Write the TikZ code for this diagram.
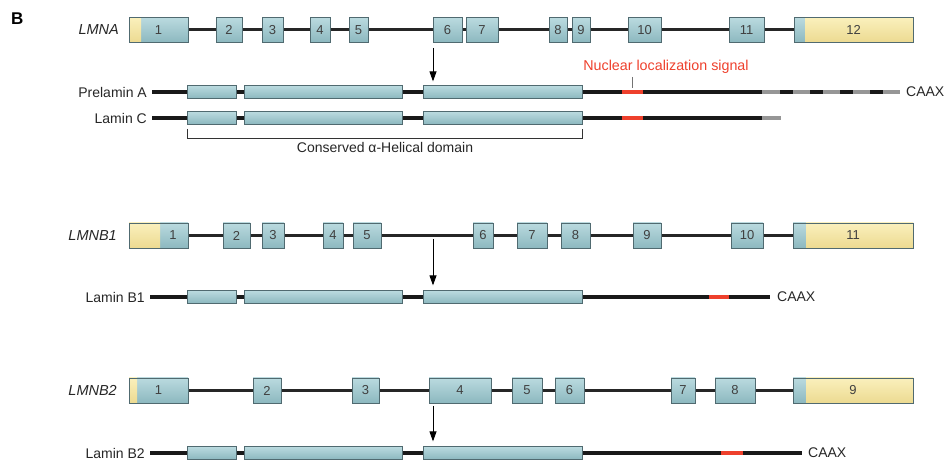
\documentclass[tikz,border=0pt]{standalone}
\usepackage{fontspec}
\setmainfont{Liberation Sans}
\usetikzlibrary{arrows.meta,backgrounds}
\definecolor{exonA}{RGB}{186,218,223}
\definecolor{exonB}{RGB}{140,184,191}
\definecolor{exonEdge}{RGB}{80,106,112}
\definecolor{utrA}{RGB}{250,240,188}
\definecolor{utrB}{RGB}{236,218,145}
\definecolor{nlsred}{RGB}{238,64,44}
\definecolor{tailgray}{RGB}{150,150,150}
\tikzset{
  exon/.style={draw=exonEdge, line width=0.8pt, top color=exonA, bottom color=exonB,
    minimum height=25pt, inner sep=0pt, text=black!75, font=\fontsize{13}{13}\selectfont},
  utrto/.style={path picture={\shade[top color=utrA,bottom color=utrB]
    (path picture bounding box.north west) rectangle ([xshift=#1]path picture bounding box.south west);}},
  utrfrom/.style={path picture={\shade[top color=utrA,bottom color=utrB]
    ([xshift=#1]path picture bounding box.north west) rectangle (path picture bounding box.south east);}},
  dom/.style={draw=exonEdge, line width=0.7pt, top color=exonA, bottom color=exonB,
    minimum height=12.5pt, inner sep=0pt},
  gene/.style={line width=3pt, black!85},
  prot/.style={line width=3.5pt, black!90},
  nlsseg/.style={line width=3.5pt, nlsred},
  tailseg/.style={line width=3.5pt, tailgray},
  plbl/.style={font=\fontsize{14}{16}\selectfont, anchor=east, inner sep=0pt, text=black!85},
  glbl/.style={font=\fontsize{14.5}{16}\selectfont\itshape, anchor=base east, inner sep=0pt, text=black!85},
  caax/.style={font=\fontsize{14}{16}\selectfont, anchor=west, inner sep=0pt, text=black!85},
  arr/.style={line width=0.9pt, -{Triangle[length=10pt,width=7pt]}},
  bracket/.style={line width=0.8pt, black!80},
}
\begin{document}
\begin{tikzpicture}[x=1pt,y=-1pt]
\useasboundingbox (0,0) rectangle (946,462);
\node[font=\fontsize{17}{17}\selectfont\bfseries, anchor=base west, inner sep=0pt] (B) at (11,25) {B};

% ---------------- LMNA ----------------
\node[glbl] (gA) at (119,35) {LMNA};
\node[exon, utrto=12pt, minimum width=59pt] (A1) at (158.5,30) {1};
\foreach \n/\a/\b in {2/216/242,3/262/283,4/310/330,5/349/368,6/433/462,7/466/498,8/549/567,9/572/590,10/628/661,11/729/764}
  \node[exon, minimum width={(\b-\a)*1pt}] (A\n) at ({(\a+\b)/2},30) {\n};
\node[exon, utrfrom=11pt, minimum width=119pt] (A12) at (853.5,30) {12};

% Prelamin A / Lamin C
\node[plbl] (lPA) at (147,92) {Prelamin A};
\node[plbl] (lLC) at (147,118) {Lamin C};
\foreach \r/\y in {PA/92,LC/118,B1/297,B2/453}{
  \foreach \n/\a/\b in {1/187/236,2/244/402,3/423/582}
    \node[dom, minimum width={(\b-\a)*1pt}] (\r\n) at ({(\a+\b)/2},\y) {};
}
\coordinate (PAblk) at (762,92);
\coordinate (PAend) at (900,92);
\coordinate (PAd1) at (780,92);
\coordinate (PAd2) at (885,92);
\coordinate (PAn1) at (622,92);
\coordinate (PAn2) at (643,92);
\node[caax] (cPA) at (906,92) {CAAX};
\coordinate (LCblk) at (762,118);
\coordinate (LCend) at (781,118);
\coordinate (LCn1) at (622,118);
\coordinate (LCn2) at (643,118);

% NLS label
\node[font=\fontsize{14.3}{15}\selectfont, text=nlsred, anchor=base, inner sep=0pt] (nls) at (666,71) {Nuclear localization signal};
\coordinate (nt1) at (632,77);
\coordinate (nt2) at (632,88);
\draw[line width=0.7pt, black!55] (nt1) -- (nt2);

% bracket
\coordinate (brL) at (187,129);
\coordinate (brR) at (582,129);
\draw[bracket] (brL) -- ++(0,9) -| (brR);
\node[font=\fontsize{14}{16}\selectfont, anchor=base, inner sep=0pt, text=black!85] (cad) at (385,153) {Conserved α-Helical domain};

% arrow
\coordinate (arA) at (433,48);
\draw[arr, shorten >=4pt] (arA) -- (arA |- PA3.north);

% ---------------- LMNB1 ----------------
\node[glbl] (gB1) at (117,241) {LMNB1};
\node[exon, utrto=31pt, minimum width=59pt] (C1) at (158.5,235.5) {\hspace*{29pt}1};
\foreach \n/\a/\b in {2/223/250,3/262/284,4/323/343,5/353/381,6/473/493,7/517/547,8/561/590,9/633/661,10/731/763}
  \node[exon, minimum width={(\b-\a)*1pt}] (C\n) at ({(\a+\b)/2},235.5) {\n};
\node[exon, utrfrom=13pt, minimum width=120pt] (C11) at (853,235.5) {11};
\node[plbl] (lB1) at (145,297) {Lamin B1};
\coordinate (B1end) at (770,297);
\coordinate (B1n1) at (709,297);
\coordinate (B1n2) at (729,297);
\node[caax] (cB1) at (777,297) {CAAX};
\coordinate (arB) at (433,239);
\draw[arr, shorten >=5pt] (arB) -- (arB |- B13.north);

% ---------------- LMNB2 ----------------
\node[glbl] (gB2) at (117,396) {LMNB2};
\node[exon, utrto=8pt, minimum width=59pt] (D1) at (158.5,390.5) {1};
\foreach \n/\a/\b in {2/253/281,3/352/379,4/429/491,5/512/542,6/555/584,7/671/695,8/715/755}
  \node[exon, minimum width={(\b-\a)*1pt}] (D\n) at ({(\a+\b)/2},390.5) {\n};
\node[exon, utrfrom=13pt, minimum width=120pt] (D9) at (853,390.5) {9};
\node[plbl] (lB2) at (145,453) {Lamin B2};
\coordinate (B2end) at (802,453);
\coordinate (B2n1) at (721,453);
\coordinate (B2n2) at (743,453);
\node[caax] (cB2) at (808,453) {CAAX};
\coordinate (arC) at (433,406);
\draw[arr, shorten >=5pt] (arC) -- (arC |- B23.north);

% ---------------- lines behind ----------------
\begin{scope}[on background layer]
  \foreach \i in {1,...,11}{\pgfmathtruncatemacro\j{\i+1}\draw[gene] (A\i.east) -- (A\j.west);}
  \foreach \i in {1,...,10}{\pgfmathtruncatemacro\j{\i+1}\draw[gene] (C\i.east) -- (C\j.west);}
  \foreach \i in {1,...,8}{\pgfmathtruncatemacro\j{\i+1}\draw[gene] (D\i.east) -- (D\j.west);}
  % Prelamin A
  \draw[prot] ([xshift=5pt]lPA.east) -- (PAblk);
  \draw[tailseg] (PAblk) -- (PAend);
  \draw[prot, dash pattern=on 13pt off 17pt] (PAd1) -- (PAd2);
  \draw[nlsseg] (PAn1) -- (PAn2);
  % Lamin C
  \draw[prot] ([xshift=5pt]lLC.east) -- (LCblk);
  \draw[tailseg] (LCblk) -- (LCend);
  \draw[nlsseg] (LCn1) -- (LCn2);
  % Lamin B1
  \draw[prot] ([xshift=5pt]lB1.east) -- (B1end);
  \draw[nlsseg] (B1n1) -- (B1n2);
  % Lamin B2
  \draw[prot] ([xshift=5pt]lB2.east) -- (B2end);
  \draw[nlsseg] (B2n1) -- (B2n2);
\end{scope}
\end{tikzpicture}
\end{document}
